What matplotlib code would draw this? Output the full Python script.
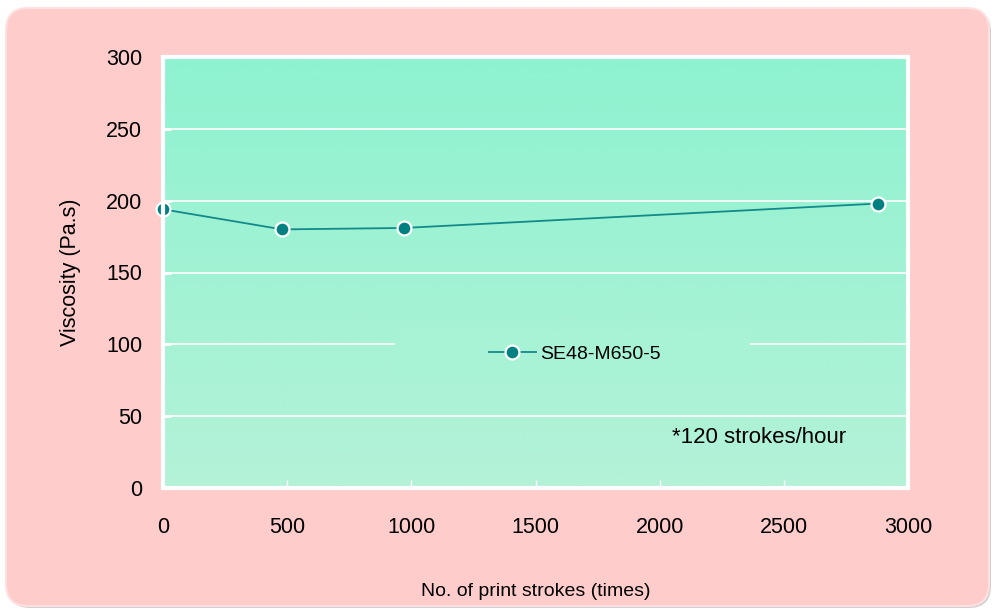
import numpy as np
import matplotlib.pyplot as plt
from matplotlib.patches import FancyBboxPatch, Rectangle
from matplotlib.transforms import IdentityTransform

plt.rcParams['font.family'] = ['Liberation Sans', 'DejaVu Sans']

# viscosity vs. number of print strokes
strokes = [0, 480, 970, 2880]
viscosity = [194, 180, 181, 198]
series_name = "SE48-M650-5"
note = "*120 strokes/hour"

x_ticks = [0, 500, 1000, 1500, 2000, 2500, 3000]
y_ticks = [0, 50, 100, 150, 200, 250, 300]

fig = plt.figure(figsize=(9.93, 6.10), dpi=100, facecolor="white")

# rounded pink panel with a soft shadow
shadow = FancyBboxPatch((8, 2), 983, 598, boxstyle="round,pad=0,rounding_size=22",
                        transform=IdentityTransform(), facecolor="#9a9a9a",
                        edgecolor="none", alpha=0.45, zorder=0)
panel = FancyBboxPatch((6, 4), 983, 598, boxstyle="round,pad=0,rounding_size=22",
                       transform=IdentityTransform(), facecolor="#FFCCCC",
                       edgecolor="#FFE0E0", linewidth=1.5, zorder=1)
fig.patches.extend([shadow, panel])

ax = fig.add_axes([163 / 993, 1 - 488 / 610, 745 / 993, 431 / 610])
ax.set_zorder(2)
ax.set_facecolor("none")

# vertical gradient inside the plot area
top = np.array([142, 242, 208]) / 255
bottom = np.array([180, 242, 216]) / 255
t = np.linspace(0, 1, 256)[:, None]
grad = (top * (1 - t) + bottom * t)[:, None, :]
ax.imshow(grad, extent=[0, 1, 0, 1], transform=ax.transAxes, aspect="auto",
          zorder=0, interpolation="bilinear")

ax.set_xlim(0, 3000)
ax.set_ylim(0, 300)
ax.set_xticks(x_ticks)
ax.set_yticks(y_ticks)

ax.grid(axis="y", color="white", linewidth=1.2)
ax.set_axisbelow(False)
for s in ax.spines.values():
    s.set_color("white")
    s.set_linewidth(3)
    s.set_zorder(5)

ax.tick_params(axis="x", direction="in", color="white", length=6, width=1,
               pad=21, labelsize=15.5)
ax.tick_params(axis="y", direction="in", color="white", length=6, width=2,
               pad=15, labelsize=15.5)

# legend area hides the gridline behind it
leg_col = top * (1 - 0.69) + bottom * 0.69
ax.add_patch(Rectangle((0.311, 0.255), 0.477, 0.112, transform=ax.transAxes,
                       facecolor=leg_col, edgecolor="none", zorder=3))

ax.plot(strokes, viscosity, color="#138a8a", linewidth=1.3, marker="o",
        markersize=10, markerfacecolor="#008080", markeredgecolor="white",
        markeredgewidth=1.6, label=series_name, zorder=4, clip_on=False)

leg = ax.legend(loc="center", bbox_to_anchor=(0.553, 0.311), frameon=False,
                fontsize=14, handlelength=2.4, handletextpad=0.25)
leg.set_zorder(6)

ax.text(2050, 35, note, fontsize=16, ha="left", va="center", zorder=4)

ax.set_xlabel("No. of print strokes (times)", fontsize=14, labelpad=32)
ax.set_ylabel("Viscosity (Pa.s)", fontsize=15.5, labelpad=18)

fig.savefig("out.png", dpi=100, facecolor="white")
